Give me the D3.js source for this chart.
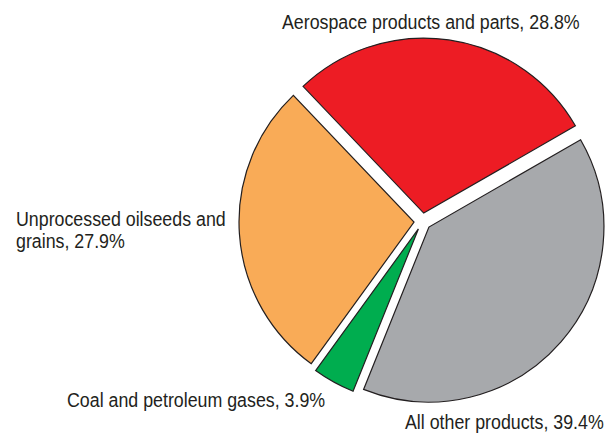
<!DOCTYPE html>
<html>
<head>
<meta charset="utf-8">
<script src="https://cdn.jsdelivr.net/npm/d3@7"></script>
<style>
  html, body { margin: 0; padding: 0; background: #fff; }
  svg { display: block; }
  .lbl { font-family: "Liberation Sans", Arial, sans-serif; font-size: 20px; fill: #231f20; }
</style>
</head>
<body>
<svg id="chart" width="613" height="434"></svg>
<script>
// slice data, clockwise from the red slice
const categories = ["Aerospace products and parts", "All other products", "Coal and petroleum gases", "Unprocessed oilseeds and grains"];
const shares = [28.8, 39.4, 3.9, 27.9];
const colors = ["#ed1c24", "#a7a9ac", "#00ad4f", "#f9ab57"];

// label text lines, one array per slice
const labelLines = [
	["Aerospace products and parts, 28.8%"],
	["All other products, 39.4%"],
	["Coal and petroleum gases, 3.9%"],
	["Unprocessed oilseeds and", "grains, 27.9%"]
];

const svg = d3.select("#chart");
const cx = 422.5, cy = 221.5, radius = 175, explode = 8.5;
const startDeg = -43.6;

let pie = d3.pie()
	.sort(null)
	.value(function(d) { return d; })
	.startAngle(startDeg * Math.PI / 180)
	.endAngle(startDeg * Math.PI / 180 + 2 * Math.PI);

let arc = d3.arc().innerRadius(0).outerRadius(radius);

let arcs = pie(shares);

let g = svg.append("g").attr("transform", "translate(" + cx + "," + cy + ")");

g.selectAll("path")
	.data(arcs)
	.enter()
	.append("path")
	.attr("d", arc)
	.attr("fill", function(d, i) { return colors[i]; })
	.attr("stroke", "#231f20")
	.attr("stroke-width", 1.2)
	.attr("stroke-linejoin", "miter")
	.attr("transform", function(d) {
		// push each slice out along its middle angle
		let mid = (d.startAngle + d.endAngle) / 2;
		return "translate(" + (Math.sin(mid) * explode) + "," + (-Math.cos(mid) * explode) + ")";
	});

// label anchors: left x and first baseline
const labelPos = [[282, 29], [405, 429], [67, 407], [16, 226]];
const lineGap = 22;
const squeeze = 0.89;

labelLines.forEach(function(lines, i) {
	// the source font is a little condensed, so squeeze the label group
	let lg = svg.append("g")
		.attr("transform", "translate(" + labelPos[i][0] + "," + labelPos[i][1] + ") scale(" + squeeze + ",1)");
	lines.forEach(function(line, j) {
		lg.append("text")
			.attr("class", "lbl")
			.attr("x", 0)
			.attr("y", j * lineGap)
			.text(line);
	});
});
</script>
</body>
</html>
